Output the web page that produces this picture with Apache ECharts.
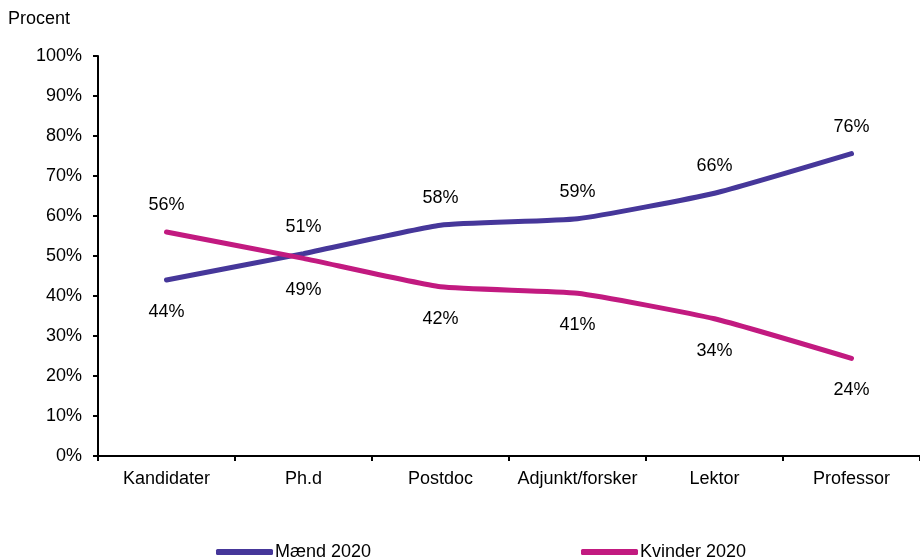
<!DOCTYPE html>
<html><head><meta charset="utf-8">
<script src="https://cdn.jsdelivr.net/npm/echarts@6/dist/echarts.min.js"></script>
<style>html,body{margin:0;padding:0;background:#fff}#c{width:920px;height:557px}</style>
</head><body><div id="c"></div>
<script>
const categories = ['Kandidater', 'Ph.d', 'Postdoc', 'Adjunkt/forsker', 'Lektor', 'Professor'];
const maend = [44, 50.6, 57.7, 59.3, 65.7, 75.6];
const kvinder = [56, 49.4, 42.3, 40.7, 34.3, 24.4];
const maendLabelPos = ['bottom', 'top', 'top', 'top', 'top', 'top'];
const kvinderLabelPos = ['top', 'bottom', 'bottom', 'bottom', 'bottom', 'bottom'];
const yTicks = [0, 10, 20, 30, 40, 50, 60, 70, 80, 90, 100];

const font = 'Liberation Sans, Arial, sans-serif';
function mk(vals, pos) {
  return vals.map((v, i) => ({value: v, label: {position: pos[i], distance: pos[i] === 'top' ? 18 : 23}}));
}
const chart = echarts.init(document.getElementById('c'), null, {renderer: 'canvas'});
chart.setOption({
  animation: false,
  backgroundColor: '#fff',
  textStyle: {fontFamily: font},
  graphic: [{type: 'text', left: 8, top: 10, style: {text: 'Procent', font: '18px ' + font, fill: '#000'}}],
  grid: {left: 98, top: 56, width: 829, height: 400},
  legend: [
    {data: ['Mænd 2020'], left: 211, top: 538, itemWidth: 57, itemHeight: 6, itemGap: 0,
     icon: 'roundRect', textStyle: {fontSize: 18, color: '#000', fontFamily: font, padding: [0,0,0,-3]}},
    {data: ['Kvinder 2020'], left: 576, top: 538, itemWidth: 57, itemHeight: 6, itemGap: 0,
     icon: 'roundRect', textStyle: {fontSize: 18, color: '#000', fontFamily: font, padding: [0,0,0,-3]}}
  ],
  xAxis: {
    type: 'category', data: categories, boundaryGap: true,
    axisLine: {lineStyle: {color: '#000', width: 2}},
    axisTick: {show: true, length: 5, interval: 0, lineStyle: {color: '#000', width: 2}},
    axisLabel: {color: '#000', fontSize: 18, margin: 14, interval: 0, fontFamily: font}
  },
  yAxis: {
    type: 'value', min: yTicks[0], max: yTicks[yTicks.length-1], interval: 10,
    axisLine: {show: true, lineStyle: {color: '#000', width: 2}},
    axisTick: {show: true, length: 5, lineStyle: {color: '#000', width: 2}},
    splitLine: {show: false},
    axisLabel: {color: '#000', fontSize: 18, margin: 16, fontFamily: font, formatter: v => v + '%'}
  },
  series: [
    {name: 'Mænd 2020', type: 'line', data: mk(maend, maendLabelPos), smooth: 0.15,
     symbol: 'circle', symbolSize: 0.1, showSymbol: true,
     lineStyle: {color: '#46379A', width: 5, cap: 'round'}, itemStyle: {color: '#46379A'},
     label: {show: true, color: '#000', fontSize: 18, fontFamily: font,
       formatter: p => Math.round(p.value) + '%'}},
    {name: 'Kvinder 2020', type: 'line', data: mk(kvinder, kvinderLabelPos), smooth: 0.15,
     symbol: 'circle', symbolSize: 0.1, showSymbol: true,
     lineStyle: {color: '#C21A80', width: 5, cap: 'round'}, itemStyle: {color: '#C21A80'},
     label: {show: true, color: '#000', fontSize: 18, fontFamily: font,
       formatter: p => Math.round(p.value) + '%'}}
  ]
});
</script></body></html>
